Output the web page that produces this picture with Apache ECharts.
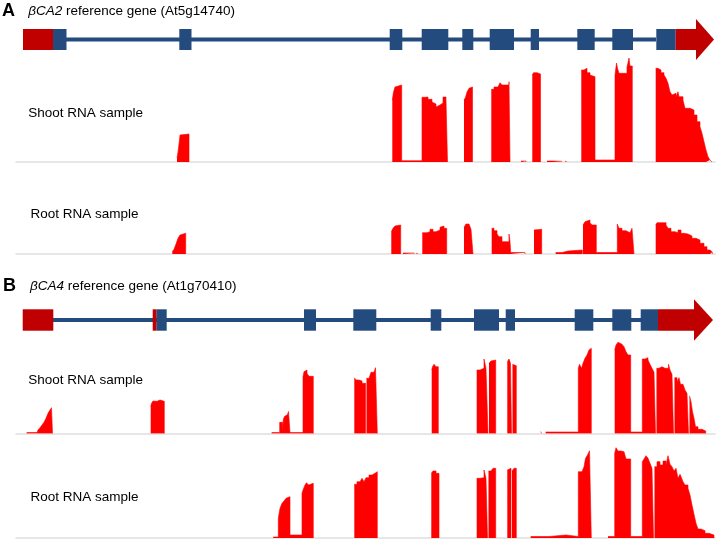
<!DOCTYPE html>
<html><head><meta charset="utf-8">
<script src="https://cdn.jsdelivr.net/npm/echarts@6/dist/echarts.min.js"></script>
<style>html,body{margin:0;padding:0;background:#fff}#c{width:719px;height:540px}</style>
</head><body><div id="c"></div>
<script>
// ---- Gene models: [start, end, kind] kind: 0 intron, 1 CDS exon, 2 UTR, 3 arrow head
const geneA = [
  [66,656,0],
  [23,53,2],[53,66.5,1],[179.3,191.5,1],[389.7,402.3,1],[421.7,448.3,1],[462.3,473.3,1],
  [489.7,514,1],[530.7,539,1],[577.3,594.7,1],[612.3,633,1],[656.3,675.7,1],[675.7,696,2],[696,714,3]
];
const geneB = [
  [53,641,0],
  [22.7,53.3,2],[152.7,156.7,2],[156.7,166.7,1],[304,316,1],[353.3,376.3,1],[430.7,441.3,1],
  [474,499,1],[505.7,515,1],[574.7,593.3,1],[612.3,631.3,1],[640.7,658,1],[658,694,2],[694,713,3]
];

// ---- Coverage tracks: [position, depth] (step profile; depth 0 = no reads until next point)
const shootA = [
  [176,0],[177,4],[178,10],[179,18],[180,27],[181,28],[189,0],
  [392.3,62],[393.5,70],[395,75],[397,77],[401.7,1.3],
  [422,64.7],[425,65],[428,62.7],[432,60],[434,58],[436,55],[438,57],[440,59],[443,65],[446,62.7],[447.5,0],
  [464,62],[465.5,64.7],[467,70],[469,73.7],[471,75],[472.5,0],
  [491.3,72.7],[494,75],[498,76],[500,79.3],[502,77],[505,78.7],[507,77],[509,80.3],[510,0],
  [521,1],[526,0],
  [532.3,87],[533.5,89.3],[537,88],[540.5,0],
  [547,1],[553,0.7],[562,0],[565,1],[567,0],
  [581.3,92],[584,93.7],[587,89.3],[590,87],[592,85.3],[595,2],
  [615,87],[616.5,99],[617.5,93.7],[619,88.7],[627,95],[629,104],[630,96],[632.3,0],
  [655.7,93.7],[658,92],[661,89.3],[664,87],[666,83.7],[668,78.7],[670,70.3],[672,67],[674,68.7],[676,65.3],
  [678,70.3],[679,65.3],[683,62],[685,53.7],[690,52.7],[692,52],[694,47],[697,40.3],[700,35.3],[702,28.7],
  [704,20.3],[706,12],[708,5.3],[710,2],[712,0]
];
const rootA = [
  [172.3,2.3],[174,4.7],[176,10],[178,15.7],[180,19],[182,20.7],[185.7,0],
  [391.3,22.3],[393,25.7],[395,28],[397,29],[400.7,0],[403,1],[414,0],[416,1],[418,0],
  [422.3,21.3],[427,22.3],[430,24.7],[433,22.3],[436,24],[440,26.7],[442,28],[444,25.7],[446.7,0],
  [464,26.7],[466,30],[469,28],[471,24.7],[473,0],
  [491.7,25.7],[494,23.3],[497,20],[499,17.3],[502,12.3],[509,20],[510,12.3],[510.7,1.5],[525,0],
  [534,24],[536,24.7],[541.7,0],
  [555.7,1.5],[562,3],[568,4],[582.3,0],
  [583,29],[585,32.3],[587,34],[590,31.3],[592,29],[596.3,1.5],
  [617.3,30],[619,25.7],[622,23.3],[626,21.3],[630,20.7],[632,25.7],[634,0],
  [655.7,29],[657,31.3],[666,29],[668,25.7],[671,22.3],[675,21.3],[678,24],[681,20.7],[684,20],[688,18],
  [692,15.7],[696,14],[700,10.7],[704,7.3],[707,4],[710,2],[712.3,0]
];
const shootB = [
  [26.7,1],[37,2],[38,3.5],[40,5.8],[42,8.5],[44,11.2],[46,15.2],[48,20.2],[50,23.5],[51.5,25.8],[52.5,0],
  [150.7,26.8],[151.5,30.2],[153,32.5],[155,32.2],[157,33.5],[160,32.2],[164.3,0],
  [271.7,1],[279.7,11.2],[282.7,1],[283.3,14],[284.5,17],[286,19],[287.5,21],[288.5,22],[290,1],
  [303,56.8],[304,61.8],[305.5,63.5],[307,60.2],[309,57.2],[313.3,0],
  [354.3,55.8],[356,53.5],[359,52.5],[362,50.2],[365.5,0],[366.5,55.2],[369,56.8],[371,61.2],[374,62.5],[375.5,65.8],[377.3,0],
  [431.7,63.5],[432.5,66.8],[434,69.2],[436,66.8],[438.3,0],
  [476.7,63.5],[480,62.5],[482,65.2],[484,74.5],[486,65.2],[488,0],[489,70.2],[491,72.5],[493,73.5],[495.7,0],
  [507.3,71.8],[509,74.5],[510.5,70.2],[511.5,0],[512.5,69.2],[514,67.8],[516.3,0],
  [540.7,2],[541.7,0],[545.7,1.5],
  [578.3,65.2],[579.5,69.2],[581.5,65.2],[583,70.2],[585,75.2],[587,78.5],[589,83.5],[590,85.2],[591.3,0],
  [614.7,83.5],[616,88.5],[618,91.2],[620,89.2],[622,91.2],[624,86.8],[626,81.8],[628,78.5],[630.7,1.5],
  [642.3,74.5],[645,75.8],[648,73.5],[650,69.2],[652,65.2],[654,61.2],[655.5,0],[656.5,65.2],[659,66.8],
  [662,65.2],[665,66.8],[667,65.2],[668.5,69.2],[670,63.5],[672,59.2],[673.5,0],[674.5,55.8],[677,51.8],
  [679,55.8],[680.5,49.2],[683,47.8],[685,43.5],[687,40.2],[688.5,0],[689.5,37.8],[691,31.8],[692.5,21.8],
  [694,15.2],[695.5,6.8],[698,4.2],[702,2.5],[705.7,0]
];
const rootB = [
  [273.3,1],[278.3,19.7],[280,29.7],[282,34.7],[284,37],[286,39.7],[288,41.3],[290,3],
  [302,44.7],[303,48],[305,53],[306.5,55.3],[308.5,53],[310,54.7],[313.3,0],
  [354.3,53.7],[357,56.3],[360,58],[362,59.7],[364,56.3],[366,60.3],[369,63],[372,64.7],[375,66.3],[377.3,0],
  [431.3,64.7],[433,67],[436,64.7],[439,0],
  [476.7,59.7],[480,60.3],[484,68],[486,59.7],[487.5,0],[488.5,67],[491,68],[493,69.7],[495.7,0],
  [507.3,68],[509,69.7],[511,0],[512,67],[514,69.7],[516.3,0],
  [530.7,1.5],[549,3],[566,1.5],
  [578.3,66.3],[582,65.7],[584,71.3],[585.5,79.7],[587.5,83],[589.5,87.3],[591.3,0],
  [608,1.5],
  [614.7,84.7],[616,90.3],[618,87],[621,86.3],[624,84.7],[626,79],[630.7,1.5],
  [642.3,76.3],[644,79],[646,82.3],[648,79.7],[650,74.7],[652,69.7],[653.5,0],[654.5,71.3],[657,76.3],
  [660,73],[663,77],[666,73],[668,82.3],[670,73.7],[672,71.3],[674,67],[676,69.7],[678,59.7],[680,63.7],
  [681.5,60.3],[683,56.3],[685,53],[688,49.7],[690,43],[692,33],[694,23.7],[696,14.7],[698,9],[701,7.3],
  [705,4.7],[709,3],[714,0]
];

// ---- Texts
const titleA = {letter:'A', gene:'βCA2', rest:' reference gene (At5g14740)'};
const titleB = {letter:'B', gene:'βCA4', rest:' reference gene (At1g70410)'};
const trackLabels = ['Shoot RNA sample','Root RNA sample','Shoot RNA sample','Root RNA sample'];

const BLUE = '#234b7d', DARKRED = '#c00000', COV = '#ff0000';
const FONT = 'Liberation Sans, Arial, sans-serif';

const XMIN = 16, XMAX = 715;
const baselines = [162, 254, 433.5, 538];
const TRACK_H = 110;

// zero-depth stretches become gaps so nothing is drawn on the baseline there
function withGaps(arr){
  const out = [];
  arr.forEach(function(p){ out.push(p); if (p[1] === 0) out.push([p[0], '-']); });
  return out;
}

const grids = [], xAxes = [], yAxes = [], series = [];
function addGrid(top, height, ymin, ymax, showBase){
  const i = grids.length;
  grids.push({left: XMIN, width: XMAX - XMIN, top: top, height: height});
  xAxes.push({type:'value', gridIndex:i, min:XMIN, max:XMAX, show: showBase,
    axisLine:{show:showBase, lineStyle:{color:'#dedede', width:1.5}}, axisTick:{show:false},
    axisLabel:{show:false}, splitLine:{show:false}, z:0});
  yAxes.push({type:'value', gridIndex:i, min:ymin, max:ymax, show:false, splitLine:{show:false}});
  return i;
}
function geneSeries(idx, data){
  return {type:'custom', xAxisIndex:idx, yAxisIndex:idx, data:data, clip:false, silent:true,
    encode:{x:[0,1]},
    renderItem:function(params, api){
      const s = api.value(0), e = api.value(1), k = api.value(2);
      const col = (k === 2 || k === 3) ? DARKRED : BLUE;
      if (k === 3) {
        const a = api.coord([s, 1.95]), b = api.coord([e, 0]), c = api.coord([s, -1.95]);
        return {type:'polygon', shape:{points:[a,b,c]}, style:{fill:col}};
      }
      const h = k === 0 ? 0.19 : 1;
      const p1 = api.coord([s, h]), p2 = api.coord([e, -h]);
      return {type:'rect', shape:{x:p1[0], y:p1[1], width:p2[0]-p1[0], height:p2[1]-p1[1]}, style:{fill:col}};
    }};
}
function covSeries(idx, data){
  return {type:'line', xAxisIndex:idx, yAxisIndex:idx, data:withGaps(data), step:'end', symbol:'none', z:3,
    connectNulls:false, silent:true, color:COV, lineStyle:{width:0.6, color:COV, opacity:1},
    areaStyle:{color:COV, opacity:1}};
}

const gA = addGrid(29, 21, -1, 1, false);
series.push(geneSeries(gA, geneA));
const gB = addGrid(309.3, 21.4, -1, 1, false);
series.push(geneSeries(gB, geneB));
const tracks = [shootA, rootA, shootB, rootB];
tracks.forEach(function(t, j){
  const gi = addGrid(baselines[j] - TRACK_H, TRACK_H, 0, TRACK_H, true);
  series.push(covSeries(gi, t));
});

function titleEls(t, x0, x1, y){
  return [
    {type:'text', x:x0, y:y, style:{text:t.letter, font:'bold 18px ' + FONT, fill:'#000', verticalAlign:'middle'}},
    {type:'text', x:x1, y:y, style:{text:'{i|' + t.gene + '}' + t.rest, fontSize:13.5, fontFamily:FONT, fill:'#000',
      verticalAlign:'middle', rich:{i:{fontStyle:'italic', fontSize:13.5, fontFamily:FONT, fill:'#000'}}}}
  ];
}
const labelPos = [[28.3,113.3],[30.5,214],[28.3,380],[30.5,497.3]];
const graphic = [].concat(titleEls(titleA, 2, 28.3, 11), titleEls(titleB, 3, 30, 286.5));
trackLabels.forEach(function(l, j){
  graphic.push({type:'text', x:labelPos[j][0], y:labelPos[j][1],
    style:{text:l, fontSize:13.5, fontFamily:FONT, fill:'#000', verticalAlign:'middle'}});
});

const chart = echarts.init(document.getElementById('c'), null, {renderer:'canvas'});
chart.setOption({animation:false, backgroundColor:'#fff', grid:grids, xAxis:xAxes, yAxis:yAxes, series:series, graphic:graphic});
</script></body></html>
